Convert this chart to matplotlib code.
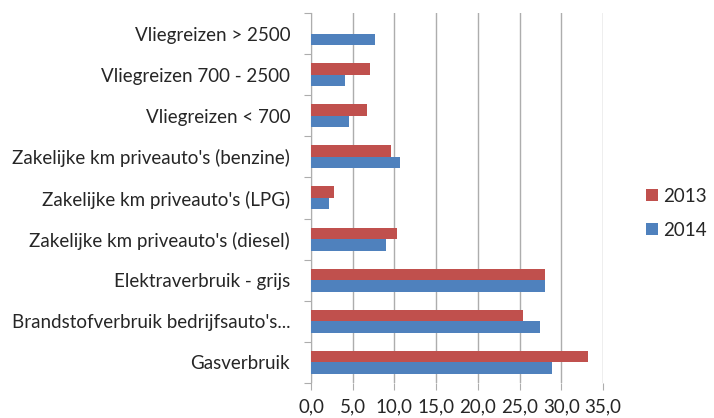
import matplotlib
matplotlib.use("Agg")
import matplotlib.pyplot as plt
import numpy as np
from matplotlib.ticker import FuncFormatter, FixedLocator

plt.rcParams["font.family"] = ["Lato", "DejaVu Sans"]

# bottom to top, as drawn
categories = [
    "Gasverbruik",
    "Brandstofverbruik bedrijfsauto's...",
    "Elektraverbruik - grijs",
    "Zakelijke km priveauto's (diesel)",
    "Zakelijke km priveauto's (LPG)",
    "Zakelijke km priveauto's (benzine)",
    "Vliegreizen < 700",
    "Vliegreizen 700 - 2500",
    "Vliegreizen > 2500",
]
values_2013 = [33.2, 25.4, 28.0, 10.25, 2.8, 9.55, 6.7, 7.05, 0.0]
values_2014 = [28.85, 27.4, 28.0, 8.95, 2.2, 10.7, 4.55, 4.1, 7.7]
series_labels = ["2013", "2014"]
x_ticks = [0, 5, 10, 15, 20, 25, 30, 35]

red = "#C0504D"
blue = "#4F81BD"
grid_col = "#ADADAD"
text_col = "#262626"
fs = 13.5

fig = plt.figure(figsize=(7.14, 4.18), dpi=100)
ax = fig.add_axes([0.4356, 0.0837, 0.4089, 0.8853])

y = np.arange(len(categories))
h = 0.28
ax.barh(y + h / 2, values_2013, height=h, color=red, label=series_labels[0], zorder=3)
ax.barh(y - h / 2, values_2014, height=h, color=blue, label=series_labels[1], zorder=3)

ax.set_xlim(0, 35)
ax.set_ylim(-0.5, len(categories) - 0.5)

ax.xaxis.set_major_locator(FixedLocator(x_ticks))
ax.xaxis.set_major_formatter(FuncFormatter(lambda v, p: f"{v:.1f}".replace(".", ",")))
ax.grid(axis="x", color=grid_col, linewidth=1.0, zorder=0)
ax.tick_params(axis="x", direction="out", length=5, color=grid_col, labelsize=fs,
               labelcolor=text_col, pad=6)

# ticks on category boundaries, labels in the middle
ax.yaxis.set_major_locator(FixedLocator(np.arange(len(categories) + 1) - 0.5))
ax.yaxis.set_minor_locator(FixedLocator(y))
ax.set_yticklabels([], minor=False)
ax.set_yticklabels(categories, minor=True)
ax.tick_params(axis="y", which="major", direction="out", length=5, color=grid_col)
ax.tick_params(axis="y", which="minor", length=0, labelsize=fs, labelcolor=text_col, pad=15)

for side in ["top", "right", "bottom"]:
    ax.spines[side].set_visible(False)
ax.spines["left"].set_color(grid_col)

handles, labels = ax.get_legend_handles_labels()
fig.legend(handles, labels, loc="center left", bbox_to_anchor=(0.905, 0.49),
           frameon=False, fontsize=fs, handlelength=0.65, handleheight=0.65,
           handletextpad=0.25, labelspacing=0.9, labelcolor=text_col,
           borderpad=0, borderaxespad=0)

fig.savefig("out.png", dpi=100)
